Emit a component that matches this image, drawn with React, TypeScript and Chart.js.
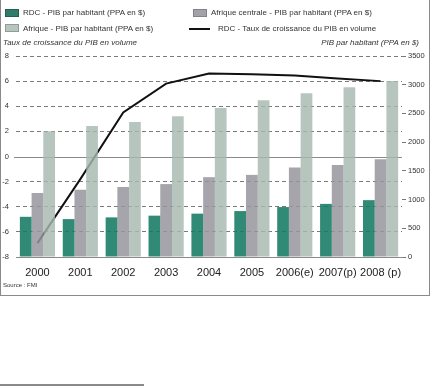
import React, { useEffect, useRef } from "react";
import { Chart, registerables } from "chart.js";

Chart.register(...registerables);

const categories = ["2000", "2001", "2002", "2003", "2004", "2005", "2006(e)", "2007(p)", "2008 (p)"];
const rdcPib = [700, 660, 690, 720, 755, 800, 870, 925, 990];
const afriqueCentralePib = [1115, 1170, 1220, 1270, 1390, 1430, 1560, 1600, 1700];
const afriquePib = [2190, 2280, 2350, 2450, 2595, 2730, 2850, 2955, 3065];
const rdcCroissance = [-6.9, -1.8, 3.5, 5.8, 6.6, 6.55, 6.45, 6.2, 6.0];

const leftMin = -8;
const leftMax = 8;
const leftStep = 2;
const rightMin = 0;
const rightMax = 3500;
const rightStep = 500;

const FONT = "'Liberation Sans', Arial, sans-serif";
const GREEN = "#2e7c6a";
const GRAY = "#a4a2a9";
const LIGHT = "#b6c6bf";

const zeroLinePlugin = {
  id: "zeroLine",
  beforeDatasetsDraw(chart: any) {
    const ctx = chart.ctx;
    const y = Math.round(chart.scales.y.getPixelForValue(0)) + 0.5;
    ctx.save();
    ctx.strokeStyle = "#8a8a8a";
    ctx.lineWidth = 1;
    ctx.beginPath();
    ctx.moveTo(chart.chartArea.left - 2, y);
    ctx.lineTo(chart.chartArea.right, y);
    ctx.stroke();
    ctx.restore();
  },
};

function ChartCanvas() {
  const ref = useRef<HTMLCanvasElement | null>(null);
  useEffect(() => {
    if (!ref.current) return;
    const chart = new Chart(ref.current, {
      type: "bar",
      data: {
        labels: categories,
        datasets: [
          {
            type: "line",
            label: "RDC - Taux de croissance du PIB en volume",
            data: rdcCroissance,
            yAxisID: "y",
            borderColor: "#111",
            borderWidth: 2,
            pointRadius: 0,
            tension: 0,
            fill: false,
            order: 1,
          } as any,
          {
            label: "RDC - PIB par habitant (PPA en $)",
            data: rdcPib,
            yAxisID: "y1",
            backgroundColor: "rgba(20,122,99,0.88)",
            order: 0,
          },
          {
            label: "Afrique centrale - PIB par habitant (PPA en $)",
            data: afriqueCentralePib,
            yAxisID: "y1",
            backgroundColor: "rgba(151,149,157,0.85)",
            order: 0,
          },
          {
            label: "Afrique - PIB par habitant (PPA en $)",
            data: afriquePib,
            yAxisID: "y1",
            backgroundColor: "rgba(166,185,177,0.82)",
            order: 0,
          },
        ],
      },
      options: {
        animation: false,
        responsive: false,
        maintainAspectRatio: false,
        layout: { padding: { top: 56, left: 0, right: 0, bottom: 0 } },
        datasets: { bar: { barPercentage: 1, categoryPercentage: 0.82 } },
        plugins: { legend: { display: false }, tooltip: { enabled: false } },
        scales: {
          x: {
            afterFit: (s: any) => {
              s.height = 43;
            },
            grid: { display: false, drawTicks: false },
            border: { display: true, color: "#8a8a8a", width: 1 },
            ticks: { color: "#222", font: { family: FONT, size: 11 }, padding: 9, maxRotation: 0, autoSkip: false },
          },
          y: {
            position: "left",
            min: leftMin,
            max: leftMax,
            afterFit: (s: any) => {
              s.width = 16;
            },
            ticks: {
              stepSize: leftStep,
              color: "#333",
              font: { family: FONT, size: 7.5 },
              padding: 7,
              callback: (v: any) => String(v),
            },
            grid: {
              drawTicks: false,
              color: (c: any) => (c.tick && (c.tick.value === 0 || c.tick.value === leftMin) ? "rgba(0,0,0,0)" : "#7a7a7a"),
              lineWidth: 1,
            },
            border: { display: false, dash: [4, 3] },
          },
          y1: {
            position: "right",
            min: rightMin,
            max: rightMax,
            afterFit: (s: any) => {
              s.width = 28;
            },
            ticks: {
              stepSize: rightStep,
              color: "#333",
              font: { family: FONT, size: 7.5 },
              padding: 2,
              callback: (v: any) => String(v),
            },
            grid: { drawOnChartArea: false, drawTicks: true, tickLength: 4, tickColor: "#777", tickWidth: 1 },
            border: { display: false },
          },
        },
      },
      plugins: [zeroLinePlugin],
    } as any);
    return () => chart.destroy();
  }, []);
  return (
    <canvas
      ref={ref}
      width={430}
      height={300}
      style={{ position: "absolute", left: 0, top: 0, width: 430, height: 300 }}
    />
  );
}

const txt = (extra: React.CSSProperties): React.CSSProperties => ({
  position: "absolute",
  fontFamily: FONT,
  fontSize: 8,
  lineHeight: "10px",
  color: "#333",
  whiteSpace: "nowrap",
  ...extra,
});

export default function App() {
  return (
    <div style={{ position: "fixed", left: 0, top: 0, width: 430, height: 386, background: "#fff" }}>
      <div
        style={{
          position: "absolute",
          left: 0,
          top: 0,
          width: 428,
          height: 295,
          borderLeft: "1px solid #8a8a8a",
          borderRight: "1px solid #8a8a8a",
          borderBottom: "1px solid #8a8a8a",
        }}
      />
      <ChartCanvas />
      {/* legend */}
      <div style={{ position: "absolute", left: 5, top: 9, width: 12, height: 6, background: GREEN, border: "1px solid #23604f" }} />
      <div style={txt({ left: 23, top: 8 })}>RDC - PIB par habitant (PPA en $)</div>
      <div style={{ position: "absolute", left: 193, top: 9, width: 12, height: 6, background: GRAY, border: "1px solid #858389" }} />
      <div style={txt({ left: 211, top: 8 })}>Afrique centrale - PIB par habitant (PPA en $)</div>
      <div style={{ position: "absolute", left: 5, top: 24, width: 12, height: 6, background: LIGHT, border: "1px solid #909d97" }} />
      <div style={txt({ left: 23, top: 23.5 })}>Afrique - PIB par habitant (PPA en $)</div>
      <div style={{ position: "absolute", left: 189, top: 27.5, width: 21, height: 2, background: "#111" }} />
      <div style={txt({ left: 218, top: 23.5 })}>RDC - Taux de croissance du PIB en volume</div>
      {/* axis titles */}
      <div style={txt({ left: 3, top: 37.5, fontStyle: "italic" })}>Taux de croissance du PIB en volume</div>
      <div style={txt({ right: 11, top: 37.5, fontStyle: "italic" })}>PIB par habitant (PPA en $)</div>
      {/* source */}
      <div style={txt({ left: 3, top: 281, fontSize: 6, lineHeight: "8px" })}>Source : FMI</div>
      <div style={{ position: "absolute", left: 0, top: 384, width: 144, height: 2, background: "#8a8a8a" }} />
    </div>
  );
}
